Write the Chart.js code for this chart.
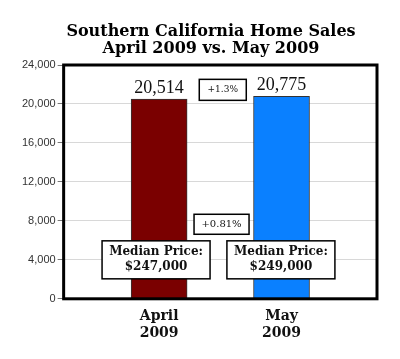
<!DOCTYPE html>
<html>
<head>
<meta charset="utf-8">
<script src="https://cdn.jsdelivr.net/npm/chart.js@4"></script>
<style>
  html, body { margin: 0; padding: 0; background: #fff; }
  #wrap { width: 400px; height: 359px; }
</style>
</head>
<body>
<div id="wrap"><canvas id="chart"></canvas></div>
<script>
const titleLines = ['Southern California Home Sales', 'April 2009 vs. May 2009'];
const months = [['April', '2009'], ['May', '2009']];
const monthPos = [1, 2];
const homeSales = [20514, 20775];
const barColors = ['#7a0000', '#0a80ff'];
const medianPrices = ['$247,000', '$249,000'];
const salesChange = '+1.3%';
const priceChange = '+0.81%';
const yTicks = [0, 4000, 8000, 12000, 16000, 20000, 24000];

const serif = '"DejaVu Serif", "Liberation Serif", serif';

const drawBox = (ctx, cx, cy, w, h, lines, font, lineGap) => {
  ctx.save();
  ctx.fillStyle = '#fff';
  ctx.fillRect(cx - w / 2, cy - h / 2, w, h);
  ctx.lineWidth = 1.5;
  ctx.strokeStyle = '#000';
  ctx.strokeRect(cx - w / 2, cy - h / 2, w, h);
  ctx.fillStyle = '#111';
  ctx.font = font;
  ctx.textAlign = 'center';
  ctx.textBaseline = 'middle';
  const start = cy - ((lines.length - 1) * lineGap) / 2;
  lines.forEach((line, i) => ctx.fillText(line, cx, start + i * lineGap));
  ctx.restore();
};

const annotationsPlugin = {
  id: 'annotations',
  afterDatasetsDraw: (chart) => {
    const { ctx, chartArea, scales } = chart;
    const x = scales.x;
    const y = scales.y;

    // title, centred a little right of the canvas like the original
    ctx.save();
    ctx.font = 'bold 16px ' + serif;
    ctx.fillStyle = '#000';
    ctx.textAlign = 'center';
    ctx.textBaseline = 'alphabetic';
    titleLines.forEach((line, i) => ctx.fillText(line, 211, 36 + i * 16.5));
    ctx.restore();

    // frame round the plot
    ctx.save();
    ctx.lineWidth = 3;
    ctx.strokeStyle = '#000';
    ctx.strokeRect(chartArea.left, chartArea.top, chartArea.right - chartArea.left, chartArea.bottom - chartArea.top);
    ctx.restore();

    // value labels above the bars
    const meta = chart.getDatasetMeta(0);
    ctx.save();
    ctx.font = '18px "Liberation Serif", serif';
    ctx.fillStyle = '#111';
    ctx.textAlign = 'center';
    ctx.textBaseline = 'bottom';
    meta.data.forEach((bar, i) => {
      ctx.fillText(homeSales[i].toLocaleString('en-US'), bar.x, bar.y - 2);
    });
    ctx.restore();

    drawBox(ctx, x.getPixelForValue(1.52), y.getPixelForValue(21450), 47, 21, [salesChange], '9px ' + serif, 0);
    drawBox(ctx, x.getPixelForValue(1.51), y.getPixelForValue(7650), 55, 20, [priceChange], '10px ' + serif, 0);
    medianPrices.forEach((price, i) => {
      drawBox(ctx, x.getPixelForValue(monthPos[i] - 0.025 + i * 0.02), y.getPixelForValue(4000), 108, 38,
        ['Median Price:', price], 'bold 12px ' + serif, 15);
    });
  },
};

new Chart(document.getElementById('chart'), {
  type: 'bar',
  data: {
    datasets: [{
      data: homeSales.map((v, i) => ({ x: monthPos[i], y: v })),
      backgroundColor: barColors,
      borderColor: '#333',
      borderWidth: 1,
      barThickness: 56,
    }],
  },
  plugins: [annotationsPlugin],
  options: {
    responsive: true,
    maintainAspectRatio: false,
    animation: false,
    layout: { padding: { left: 20, right: 23, top: 65, bottom: 16 } },
    plugins: {
      legend: { display: false },
      tooltip: { enabled: false },
      title: { display: false },
    },
    scales: {
      x: {
        type: 'linear',
        offset: false,
        min: 0.22,
        max: 2.78,
        afterBuildTicks: (scale) => {
          scale.ticks = monthPos.map((v) => ({ value: v }));
        },
        ticks: {
          callback: (value) => months[monthPos.indexOf(value)],
          color: '#111',
          font: { family: serif, size: 14, weight: 'bold', lineHeight: 1.15 },
          padding: 2,
          maxRotation: 0,
        },
        grid: { display: false, offset: false },
        border: { display: false },
      },
      y: {
        min: 0,
        max: 24000,
        afterBuildTicks: (scale) => {
          scale.ticks = yTicks.map((v) => ({ value: v }));
        },
        ticks: {
          callback: (value) => value.toLocaleString('en-US'),
          color: '#333',
          font: { family: '"Liberation Sans", Arial, sans-serif', size: 11 },
          padding: 2,
        },
        grid: { color: '#d8d8d8', tickColor: '#777', tickLength: 6 },
        border: { display: false },
      },
    },
  },
});
</script>
</body>
</html>
